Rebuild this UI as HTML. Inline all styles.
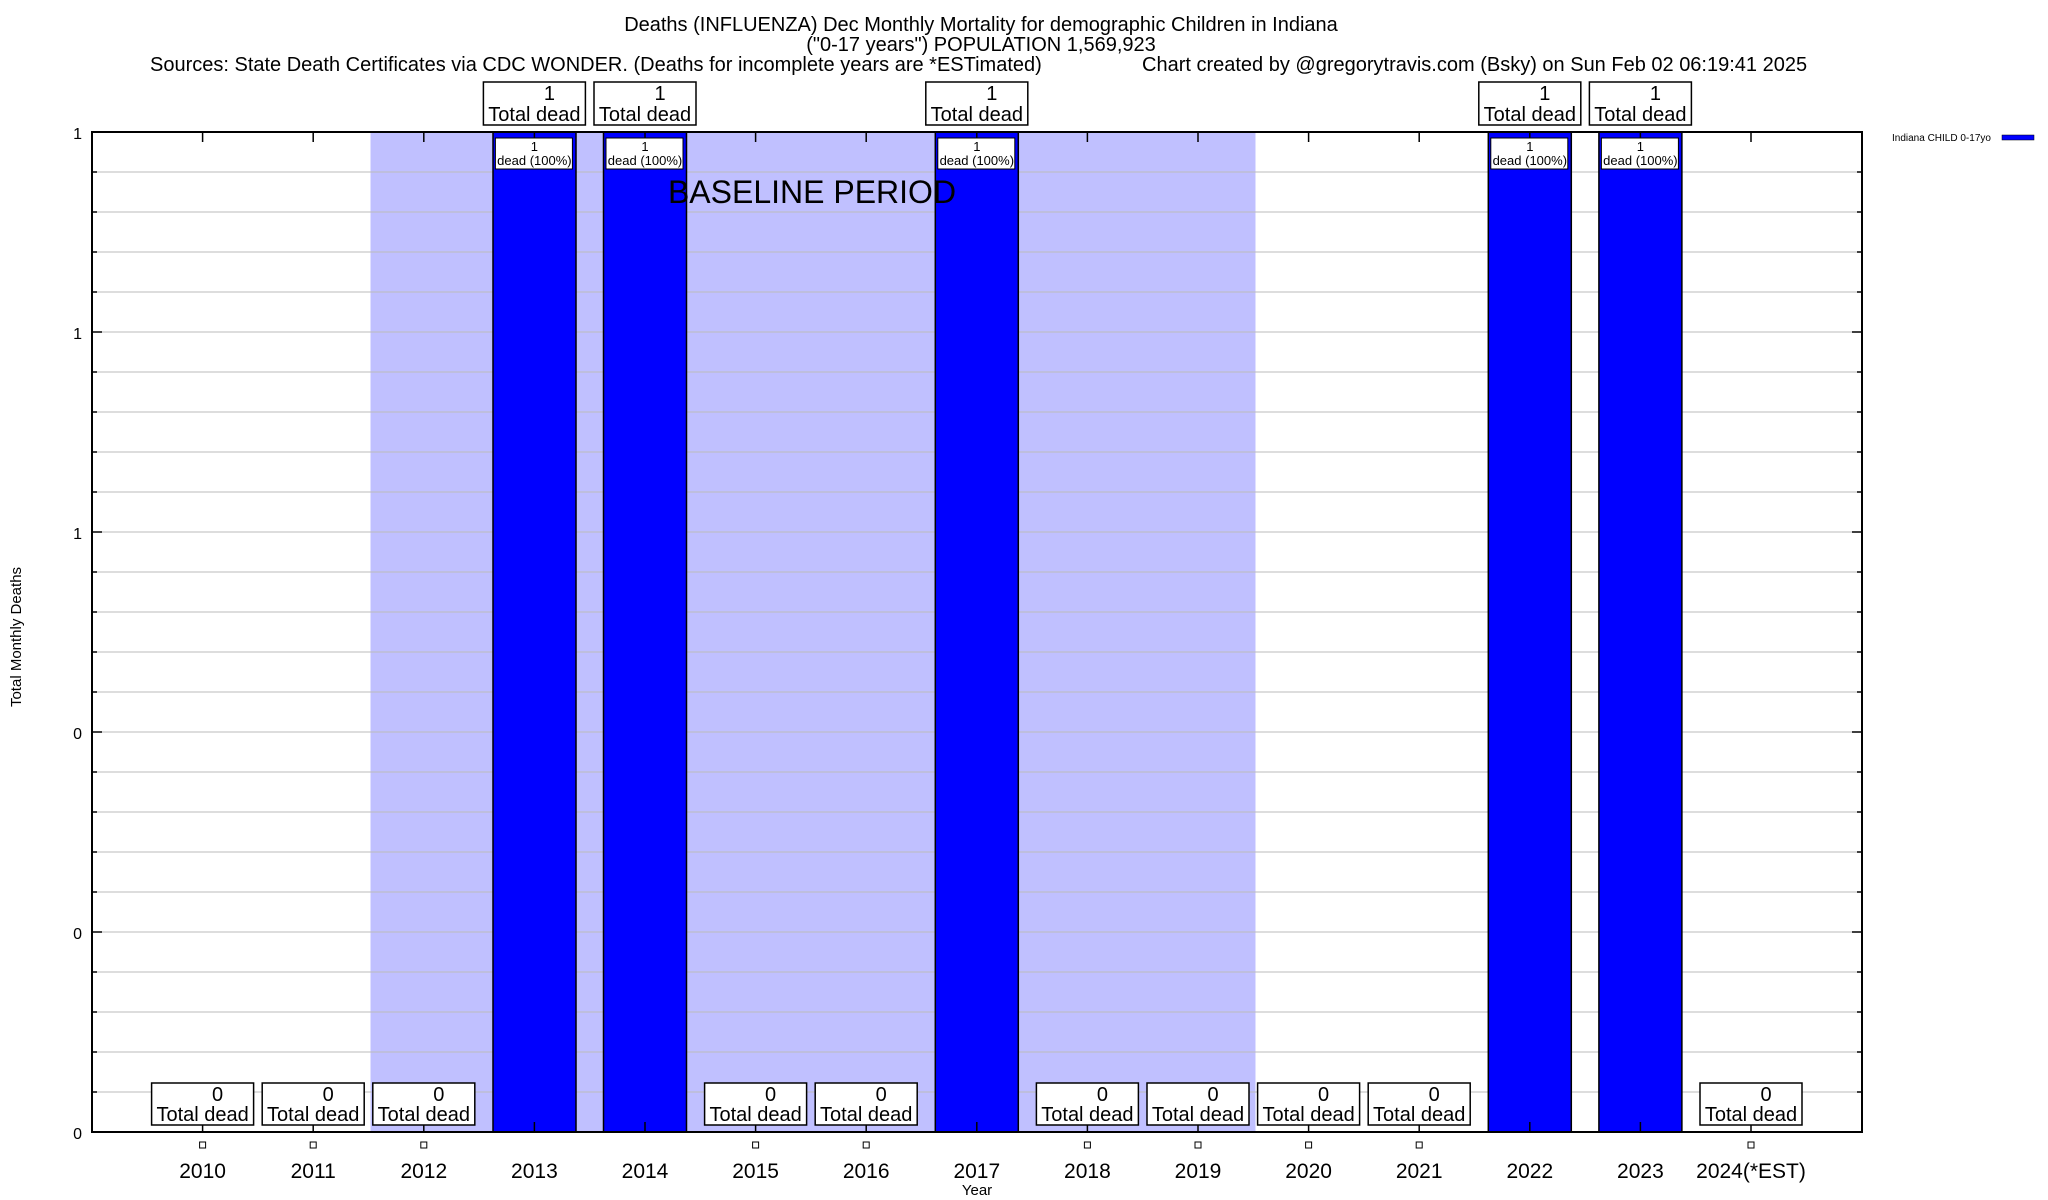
<!DOCTYPE html>
<html><head><meta charset="utf-8"><style>
body{margin:0;background:#fff}
svg{display:block;font-family:"Liberation Sans",sans-serif}
</style></head><body>
<svg width="2048" height="1200" viewBox="0 0 2048 1200" xmlns="http://www.w3.org/2000/svg">
<rect width="2048" height="1200" fill="#fff"/>
<g font-size="20" text-anchor="middle">
<text x="981" y="31">Deaths (INFLUENZA) Dec Monthly Mortality for demographic Children in Indiana</text>
<text x="981" y="51">("0-17 years") POPULATION 1,569,923</text>
<text x="150" y="71" text-anchor="start">Sources: State Death Certificates via CDC WONDER. (Deaths for incomplete years are *ESTimated)</text>
<text x="1142" y="71" text-anchor="start">Chart created by @gregorytravis.com (Bsky) on Sun Feb 02 06:19:41 2025</text>
</g>
<rect x="370.5" y="132" width="885" height="1000" fill="#c0c0ff"/>
<g stroke="#bbb" stroke-width="1">
<line x1="92" x2="1862" y1="172" y2="172"/><line x1="92" x2="1862" y1="212" y2="212"/><line x1="92" x2="1862" y1="252" y2="252"/><line x1="92" x2="1862" y1="292" y2="292"/><line x1="92" x2="1862" y1="332" y2="332"/><line x1="92" x2="1862" y1="372" y2="372"/><line x1="92" x2="1862" y1="412" y2="412"/><line x1="92" x2="1862" y1="452" y2="452"/><line x1="92" x2="1862" y1="492" y2="492"/><line x1="92" x2="1862" y1="532" y2="532"/><line x1="92" x2="1862" y1="572" y2="572"/><line x1="92" x2="1862" y1="612" y2="612"/><line x1="92" x2="1862" y1="652" y2="652"/><line x1="92" x2="1862" y1="692" y2="692"/><line x1="92" x2="1862" y1="732" y2="732"/><line x1="92" x2="1862" y1="772" y2="772"/><line x1="92" x2="1862" y1="812" y2="812"/><line x1="92" x2="1862" y1="852" y2="852"/><line x1="92" x2="1862" y1="892" y2="892"/><line x1="92" x2="1862" y1="932" y2="932"/><line x1="92" x2="1862" y1="972" y2="972"/><line x1="92" x2="1862" y1="1012" y2="1012"/><line x1="92" x2="1862" y1="1052" y2="1052"/><line x1="92" x2="1862" y1="1092" y2="1092"/>
</g>
<g fill="#0000ff" stroke="#000" stroke-width="1.5">
<rect x="493" y="132" width="83" height="1000"/>
<rect x="603.5" y="132" width="83" height="1000"/>
<rect x="935.3" y="132" width="83" height="1000"/>
<rect x="1488.3" y="132" width="83" height="1000"/>
<rect x="1598.9" y="132" width="83" height="1000"/>
</g>
<text x="812" y="203" font-size="32" text-anchor="middle">BASELINE PERIOD</text>
<rect x="92" y="132" width="1770" height="1000" fill="none" stroke="#000" stroke-width="2"/>
<g stroke="#000" stroke-width="1.5">
<path d="M92 132h10M92 172h5M92 212h5M92 252h5M92 292h5M92 332h10M92 372h5M92 412h5M92 452h5M92 492h5M92 532h10M92 572h5M92 612h5M92 652h5M92 692h5M92 732h10M92 772h5M92 812h5M92 852h5M92 892h5M92 932h10M92 972h5M92 1012h5M92 1052h5M92 1092h5M92 1132h10"/>
<path d="M1862 132h-10M1862 172h-5M1862 212h-5M1862 252h-5M1862 292h-5M1862 332h-10M1862 372h-5M1862 412h-5M1862 452h-5M1862 492h-5M1862 532h-10M1862 572h-5M1862 612h-5M1862 652h-5M1862 692h-5M1862 732h-10M1862 772h-5M1862 812h-5M1862 852h-5M1862 892h-5M1862 932h-10M1862 972h-5M1862 1012h-5M1862 1052h-5M1862 1092h-5M1862 1132h-10"/>
<path d="M202.6 132v10M313.2 132v10M423.8 132v10M534.4 132v10M645 132v10M755.6 132v10M866.2 132v10M976.8 132v10M1087.4 132v10M1198 132v10M1308.6 132v10M1419.2 132v10M1529.8 132v10M1640.4 132v10M1751 132v10"/>
<path d="M202.6 1132v-10M313.2 1132v-10M423.8 1132v-10M534.4 1132v-10M645 1132v-10M755.6 1132v-10M866.2 1132v-10M976.8 1132v-10M1087.4 1132v-10M1198 1132v-10M1308.6 1132v-10M1419.2 1132v-10M1529.8 1132v-10M1640.4 1132v-10M1751 1132v-10"/>
</g>
<g font-size="16" text-anchor="end">
<text x="82" y="139">1</text><text x="82" y="339">1</text><text x="82" y="539">1</text><text x="82" y="739">0</text><text x="82" y="939">0</text><text x="82" y="1139">0</text>
</g>
<g fill="none" stroke="#000" stroke-width="1">
<rect x="199.6" y="1142" width="6" height="6"/><rect x="310.2" y="1142" width="6" height="6"/><rect x="420.8" y="1142" width="6" height="6"/><rect x="752.6" y="1142" width="6" height="6"/><rect x="863.2" y="1142" width="6" height="6"/><rect x="1084.4" y="1142" width="6" height="6"/><rect x="1195" y="1142" width="6" height="6"/><rect x="1305.6" y="1142" width="6" height="6"/><rect x="1416.2" y="1142" width="6" height="6"/><rect x="1748" y="1142" width="6" height="6"/>
</g>
<g font-size="21" text-anchor="middle">
<text x="202.6" y="1178">2010</text><text x="313.2" y="1178">2011</text><text x="423.8" y="1178">2012</text><text x="534.4" y="1178">2013</text><text x="645" y="1178">2014</text><text x="755.6" y="1178">2015</text><text x="866.2" y="1178">2016</text><text x="976.8" y="1178">2017</text><text x="1087.4" y="1178">2018</text><text x="1198" y="1178">2019</text><text x="1308.6" y="1178">2020</text><text x="1419.2" y="1178">2021</text><text x="1529.8" y="1178">2022</text><text x="1640.4" y="1178">2023</text><text x="1751" y="1178">2024(*EST)</text>
</g>
<defs>
<g id="z"><rect x="-51" y="1083" width="102" height="42" fill="#fff" stroke="#000" stroke-width="1.5"/><text x="15" y="1101" font-size="20" text-anchor="middle">0</text><text x="0" y="1121" font-size="20" text-anchor="middle">Total dead</text></g>
<g id="o"><rect x="-51" y="82" width="102" height="43" fill="#fff" stroke="#000" stroke-width="1.5"/><text x="15" y="100" font-size="20" text-anchor="middle">1</text><text x="0" y="121" font-size="20" text-anchor="middle">Total dead</text><rect x="-39" y="138" width="77" height="31" fill="#fff" stroke="#000" stroke-width="1"/><text x="0" y="151" font-size="13" text-anchor="middle">1</text><text x="0" y="165" font-size="13" text-anchor="middle">dead (100%)</text></g>
</defs>
<use href="#z" x="202.6"/><use href="#z" x="313.2"/><use href="#z" x="423.8"/><use href="#z" x="755.6"/><use href="#z" x="866.2"/><use href="#z" x="1087.4"/><use href="#z" x="1198"/><use href="#z" x="1308.6"/><use href="#z" x="1419.2"/><use href="#z" x="1751"/>
<use href="#o" x="534.4"/><use href="#o" x="645"/><use href="#o" x="976.8"/><use href="#o" x="1529.8"/><use href="#o" x="1640.4"/>
<text x="977" y="1195" font-size="15" text-anchor="middle">Year</text>
<text transform="translate(21,637) rotate(-90)" font-size="15" text-anchor="middle">Total Monthly Deaths</text>
<text x="1892" y="141" font-size="10">Indiana CHILD 0-17yo</text>
<rect x="2002" y="135" width="32" height="5" fill="#0000ff" stroke="#000" stroke-width="0.5"/>
</svg>
</body></html>
